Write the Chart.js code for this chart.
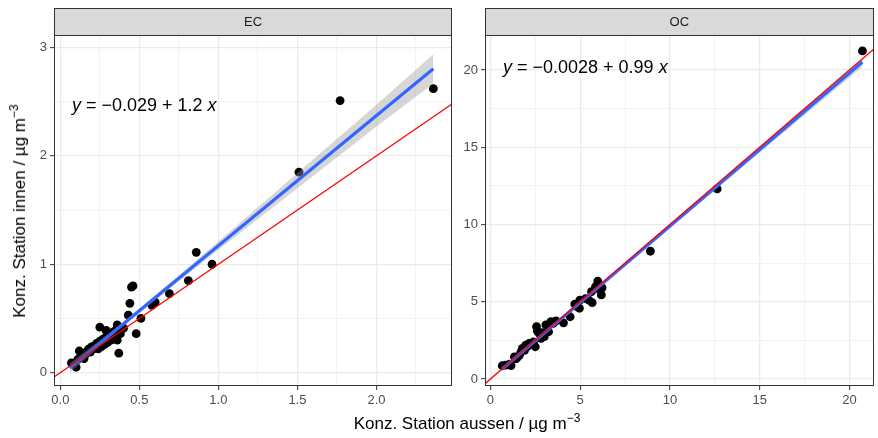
<!DOCTYPE html>
<html>
<head>
<meta charset="utf-8">
<script src="https://cdn.jsdelivr.net/npm/chart.js@4.4.1/dist/chart.umd.min.js"></script>
<style>
  body { margin: 0; background: #fff; }
  #wrap { position: relative; width: 878px; height: 438px; font-family: 'Liberation Sans', Arial, sans-serif; }
  canvas { position: absolute; left: 0; top: 0; }
  .ytitle { position: absolute; left: 20px; top: 211px; transform: translate(-50%, -50%) rotate(-90deg); white-space: nowrap; font-size: 17px; color: #000; }
  .xtitle { position: absolute; left: 467px; top: 424px; transform: translate(-50%, -50%); white-space: nowrap; font-size: 17px; color: #000; }
  sup { font-size: 12px; vertical-align: 7px; line-height: 0; }
</style>
</head>
<body>
<div id="wrap">
  <canvas id="ec" width="878" height="438"></canvas>
  <canvas id="oc" width="878" height="438"></canvas>
  <div class="ytitle">Konz. Station innen / µg m<sup>−3</sup></div>
  <div class="xtitle">Konz. Station aussen / µg m<sup>−3</sup></div>
</div>
<script>
// EC: outdoor vs indoor concentration
const ecX = [0.07, 0.10, 0.11, 0.12, 0.13, 0.14, 0.15, 0.16, 0.17, 0.18, 0.19, 0.20, 0.21, 0.22, 0.23, 0.24,
             0.25, 0.26, 0.25, 0.27, 0.28, 0.29, 0.29, 0.30, 0.31, 0.32, 0.33, 0.34, 0.35, 0.36, 0.36, 0.37,
             0.37, 0.38, 0.40, 0.43, 0.44, 0.45, 0.46, 0.48, 0.51, 0.58, 0.60, 0.69, 0.81, 0.86, 0.96, 1.51,
             1.77, 2.36];
const ecY = [0.09, 0.05, 0.12, 0.20, 0.16, 0.18, 0.13, 0.17, 0.20, 0.22, 0.19, 0.24, 0.22, 0.25, 0.27, 0.22,
             0.29, 0.24, 0.42, 0.31, 0.26, 0.33, 0.39, 0.28, 0.36, 0.30, 0.34, 0.38, 0.32, 0.44, 0.30, 0.18,
             0.40, 0.36, 0.41, 0.53, 0.64, 0.79, 0.80, 0.36, 0.50, 0.62, 0.65, 0.73, 0.85, 1.11, 1.00, 1.85,
             2.51, 2.62];
// OC: outdoor vs indoor concentration
const ocX = [0.66, 0.85, 1.07, 1.15, 1.34, 1.42, 1.50, 1.62, 1.70, 1.78, 1.90, 1.97, 2.05, 2.15, 2.30, 2.40,
             2.50, 2.57, 2.62, 2.72, 2.82, 2.90, 3.00, 3.09, 3.24, 3.37, 3.50, 3.65, 4.07, 4.44, 4.70, 4.80,
             4.96, 4.98, 5.30, 5.49, 5.67, 5.63, 5.85, 5.98, 6.07, 6.18, 6.22, 8.91, 12.63, 20.72];
const ocY = [0.86, 0.90, 0.97, 0.87, 1.44, 1.30, 1.40, 1.55, 1.75, 1.99, 1.85, 2.20, 2.10, 2.30, 2.25, 2.40,
             2.09, 3.39, 3.10, 2.95, 2.63, 3.00, 2.74, 3.50, 3.06, 3.71, 3.60, 3.77, 3.64, 4.03, 4.85, 4.70,
             4.58, 5.11, 5.20, 5.11, 4.94, 5.65, 5.97, 6.34, 5.80, 5.44, 5.90, 8.27, 12.30, 21.23];

// linear fits (y = a + b x) over the data range, with confidence band
const ecFitX = [0.06, 2.36];
const ecFitY = [0.043, 2.803];
const ecBandX = [0.06, 0.35, 0.70, 1.00, 1.50, 2.00, 2.36];
const ecBandLow = [0.00, 0.371, 0.786, 1.131, 1.701, 2.271, 2.668];
const ecBandHigh = [0.088, 0.411, 0.836, 1.211, 1.841, 2.471, 2.938];

const ocFitX = [0.66, 20.72];
const ocFitY = [0.651, 20.51];
const ocBandX = [0.66, 3, 6, 10, 15, 20.72];
const ocBandLow = [0.55, 2.90, 5.86, 9.78, 14.65, 20.21];
const ocBandHigh = [0.75, 3.04, 6.02, 10.02, 15.05, 20.81];

// axis ticks
const ecXTicks = [0, 0.5, 1, 1.5, 2];
const ecXLabels = ['0.0', '0.5', '1.0', '1.5', '2.0'];
const ecXMinor = [0.25, 0.75, 1.25, 1.75, 2.25];
const ecYTicks = [0, 1, 2, 3];
const ecYLabels = ['0', '1', '2', '3'];
const ecYMinor = [0.5, 1.5, 2.5];
const ocXTicks = [0, 5, 10, 15, 20];
const ocXLabels = ['0', '5', '10', '15', '20'];
const ocXMinor = [2.5, 7.5, 12.5, 17.5];
const ocYTicks = [0, 5, 10, 15, 20];
const ocYLabels = ['0', '5', '10', '15', '20'];
const ocYMinor = [2.5, 7.5, 12.5, 17.5];

const FONT = "'Liberation Sans', Arial, sans-serif";

const pts = (xs, ys) => xs.map((x, i) => ({ x: x, y: ys[i] }));

// strip on top, panel border and regression equation
const panelDecor = {
  id: 'panelDecor',
  afterDatasetsDraw(chart, args, opts) {
    const a = chart.chartArea;
    const ctx = chart.ctx;
    ctx.save();
    let x = a.left + opts.eqDx;
    const y = a.top + opts.eqDy;
    ctx.fillStyle = '#000';
    ctx.textBaseline = 'alphabetic';
    opts.eq.forEach(seg => {
      ctx.font = (seg.i ? 'italic ' : '') + '18px ' + FONT;
      ctx.fillText(seg.t, x, y);
      x += ctx.measureText(seg.t).width;
    });
    ctx.strokeStyle = '#333333';
    ctx.lineWidth = 1;
    ctx.strokeRect(Math.round(a.left) + 0.5, Math.round(a.top) + 0.5,
                   Math.round(a.right - a.left) - 1, Math.round(a.bottom - a.top) - 1);
    // strip
    const top = 8;
    ctx.fillStyle = '#D9D9D9';
    ctx.fillRect(Math.round(a.left), top, Math.round(a.right - a.left), Math.round(a.top) - top);
    ctx.strokeRect(Math.round(a.left) + 0.5, top + 0.5,
                   Math.round(a.right - a.left) - 1, Math.round(a.top) - top);
    ctx.fillStyle = '#1A1A1A';
    ctx.font = '13px ' + FONT;
    ctx.textAlign = 'center';
    ctx.textBaseline = 'middle';
    ctx.fillText(opts.strip, (a.left + a.right) / 2, (top + a.top) / 2 + 1);
    ctx.restore();
  }
};

function axis(min, max, majors, labels, minors, fitSize, isX) {
  return {
    type: 'linear',
    min: min,
    max: max,
    afterBuildTicks: s => {
      s.ticks = majors.concat(minors).sort((p, q) => p - q).map(v => ({ value: v }));
    },
    afterFit: s => {
      if (isX) s.height = fitSize; else s.width = fitSize;
    },
    border: { display: false },
    grid: {
      color: '#EBEBEB',
      lineWidth: c => (c.tick && majors.includes(c.tick.value)) ? 1.3 : 0.6,
      tickLength: 4,
      tickWidth: 1,
      tickColor: c => (c.tick && majors.includes(c.tick.value)) ? '#333333' : 'rgba(0,0,0,0)'
    },
    ticks: {
      autoSkip: false,
      maxRotation: 0,
      padding: 3,
      color: '#4D4D4D',
      font: { size: 13, family: FONT },
      callback: v => {
        const i = majors.indexOf(v);
        return i >= 0 ? labels[i] : '';
      }
    }
  };
}

function panel(canvasId, cfg) {
  return new Chart(document.getElementById(canvasId), {
    type: 'scatter',
    data: {
      datasets: [
        { data: [{ x: cfg.xmin, y: cfg.xmin }, { x: cfg.xmax, y: cfg.xmax }], showLine: true,
          borderColor: '#FF0000', borderWidth: 1.3, pointRadius: 0, order: 0 },
        { data: pts(cfg.fitX, cfg.fitY), showLine: true,
          borderColor: '#3366FF', borderWidth: 3.2, pointRadius: 0, order: 1 },
        { data: pts(cfg.bandX, cfg.bandLow), showLine: true,
          borderWidth: 0, borderColor: 'rgba(0,0,0,0)', pointRadius: 0, order: 3 },
        { data: pts(cfg.bandX, cfg.bandHigh), showLine: true,
          borderWidth: 0, borderColor: 'rgba(0,0,0,0)', pointRadius: 0,
          fill: { target: 2 }, backgroundColor: 'rgba(153,153,153,0.4)', order: 2 },
        { data: pts(cfg.x, cfg.y), pointRadius: 4.4, pointBorderWidth: 0,
          backgroundColor: '#000000', order: 4 }
      ]
    },
    options: {
      responsive: false,
      animation: false,
      devicePixelRatio: 1,
      layout: { padding: cfg.padding },
      scales: {
        x: axis(cfg.xmin, cfg.xmax, cfg.xTicks, cfg.xLabels, cfg.xMinor, 52, true),
        y: axis(cfg.ymin, cfg.ymax, cfg.yTicks, cfg.yLabels, cfg.yMinor, cfg.yWidth, false)
      },
      plugins: {
        legend: { display: false },
        tooltip: { enabled: false },
        panelDecor: { strip: cfg.strip, eq: cfg.eq, eqDx: cfg.eqDx, eqDy: cfg.eqDy }
      }
    },
    plugins: [panelDecor]
  });
}

panel('ec', {
  strip: 'EC',
  x: ecX, y: ecY,
  fitX: ecFitX, fitY: ecFitY,
  bandX: ecBandX, bandLow: ecBandLow, bandHigh: ecBandHigh,
  xmin: -0.04, xmax: 2.478, ymin: -0.123, ymax: 3.115,
  xTicks: ecXTicks, xLabels: ecXLabels, xMinor: ecXMinor,
  yTicks: ecYTicks, yLabels: ecYLabels, yMinor: ecYMinor,
  yWidth: 54,
  padding: { left: 0, top: 35, right: 426, bottom: 0 },
  eq: [{ t: 'y', i: true }, { t: ' = ' }, { t: '−0.029' }, { t: ' + ' }, { t: '1.2 ' }, { t: 'x', i: true }],
  eqDx: 18, eqDy: 76
});

panel('oc', {
  strip: 'OC',
  x: ocX, y: ocY,
  fitX: ocFitX, fitY: ocFitY,
  bandX: ocBandX, bandLow: ocBandLow, bandHigh: ocBandHigh,
  xmin: -0.3, xmax: 21.34, ymin: -0.45, ymax: 22.26,
  xTicks: ocXTicks, xLabels: ocXLabels, xMinor: ocXMinor,
  yTicks: ocYTicks, yLabels: ocYLabels, yMinor: ocYMinor,
  yWidth: 30,
  padding: { left: 455, top: 35, right: 2, bottom: 0 },
  eq: [{ t: 'y', i: true }, { t: ' = ' }, { t: '−0.0028' }, { t: ' + ' }, { t: '0.99 ' }, { t: 'x', i: true }],
  eqDx: 18, eqDy: 38
});
</script>
</body>
</html>
